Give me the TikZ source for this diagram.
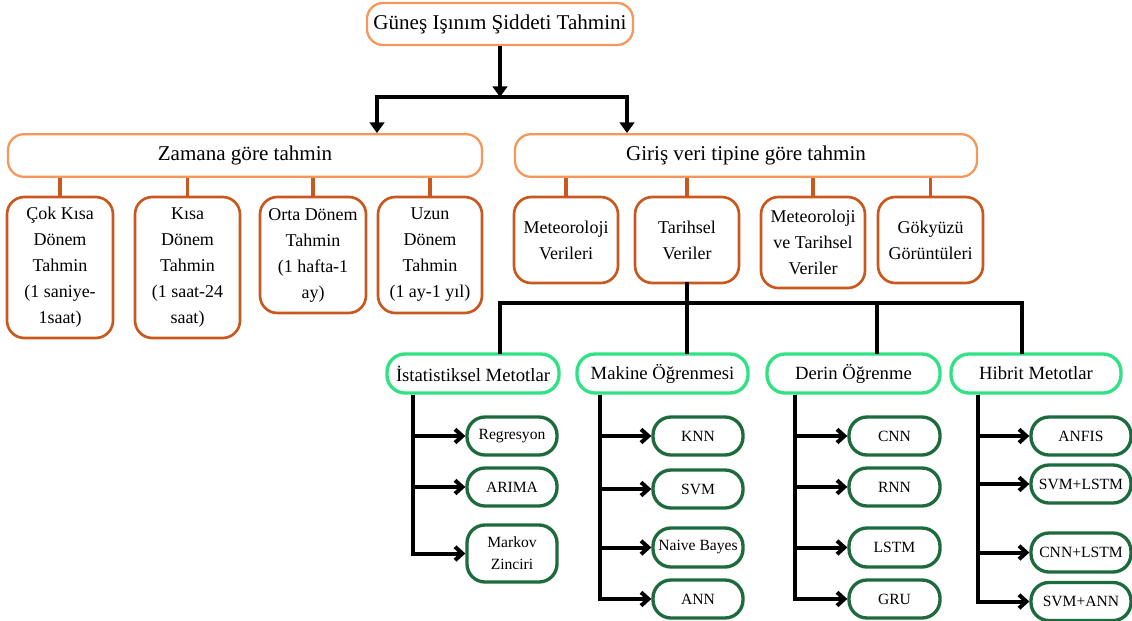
\documentclass[tikz,border=0pt]{standalone}
\usepackage{fontspec}
\setmainfont{Liberation Serif}
\usepackage{tikz}
\usetikzlibrary{arrows.meta, calc}
\usepackage{xcolor}
\definecolor{OrL}{HTML}{F5975A}
\definecolor{OrD}{HTML}{C9581E}
\definecolor{GrL}{HTML}{30E284}
\definecolor{GrD}{HTML}{1D6B3C}
\tikzset{
  TOP/.style={
    rectangle, rounded corners=12pt,
    draw=OrL, fill=white, line width=1.7pt,
    font=\fontsize{15.8}{19}\selectfont,
    inner sep=0pt, minimum height=32pt
  },
  SUB/.style={
    rectangle, rounded corners=13pt,
    draw=OrD, fill=white, line width=2pt, align=center,
    font=\fontsize{13.5}{19.5}\selectfont,
    inner sep=0pt, minimum width=78pt
  },
  GRP/.style={
    rectangle, rounded corners=13.5pt,
    draw=GrL, fill=white, line width=2.5pt,
    font=\fontsize{14}{17}\selectfont,
    inner sep=0pt, minimum height=29.25pt
  },
  LEAF/.style={
    rectangle, rounded corners=13.5pt,
    draw=GrD, fill=white, line width=2.5pt, align=center,
    font=\fontsize{11.7}{16.7}\selectfont,
    inner sep=0pt, minimum width=67.5pt, minimum height=28.5pt
  },
  ARR/.style={
    -{Triangle[length=8pt,width=11pt]},
    line width=3pt, color=black
  },
  BLN/.style={line width=3pt, line cap=rect, color=black},
  OLN/.style={line width=2.6pt, color=OrD},
  SAR/.style={
    -{Straight Barb[length=5.5pt,width=10pt]},
    line width=3pt, color=black
  },
}
\begin{document}
\begin{tikzpicture}[x=0.75pt,y=-0.75pt]
\useasboundingbox (0,0) rectangle (1132,621);

%================ ROOT =================
\node[TOP,minimum width=199.5pt,minimum height=31.5pt] (root) at (500,24)
{Güneş Işınım Şiddeti Tahmini};

\node[TOP,minimum width=355.5pt] (zam) at (245,155.5) {Zamana göre tahmin};
\node[TOP,minimum width=346.5pt] (gir) at (746,155.5) {Giriş veri tipine göre tahmin};

%================ TIME BASED =================
\node[SUB,minimum width=79.5pt,minimum height=105.75pt] (cks) at (60,267.5)
{Çok Kısa\\Dönem\\Tahmin\\(1 saniye-\\1saat)};
\node[SUB,minimum width=78.75pt,minimum height=105.75pt] (ks) at (187.5,267.5)
{Kısa\\Dönem\\Tahmin\\(1 saat-24\\saat)};
\node[SUB,minimum width=79.5pt,minimum height=87pt] (od) at (313,255)
{Orta Dönem\\Tahmin\\(1 hafta-1\\ay)};
\node[SUB,minimum height=87pt] (ud) at (430,255)
{Uzun\\Dönem\\Tahmin\\(1 ay-1 yıl)};

%================ INPUT BASED =================
\node[SUB,minimum height=64.5pt] (mv) at (566,240) {Meteoroloji\\Verileri};
\node[SUB,minimum height=64.5pt] (tv) at (687,240) {Tarihsel\\Veriler};
\node[SUB,minimum height=68.25pt] (mtv) at (813,242.5)
{Meteoroloji\\ve Tarihsel\\Veriler};
\node[SUB,minimum width=78.75pt,minimum height=64.5pt] (gg) at (930.5,240)
{Gökyüzü\\Görüntüleri};

%================ METHOD GROUPS =================
\node[GRP,minimum width=129pt]    (ist) at (473,373.5)  {İstatistiksel Metotlar};
\node[GRP,minimum width=128.25pt] (mak) at (662.5,373.5){Makine Öğrenmesi};
\node[GRP,minimum width=129.75pt] (der) at (853.5,373.5){Derin Öğrenme};
\node[GRP,minimum width=127.5pt]  (hib) at (1036,373.5) {Hibrit Metotlar};

%================ LEAVES =================
\node[LEAF] (reg) at (512,436)   {Regresyon};
\node[LEAF] (ari) at (512,487)   {ARIMA};
\node[LEAF,minimum height=42.75pt] (mar) at (512,553.5) {Markov\\Zinciri};

\node[LEAF] (knn) at (698,436)   {KNN};
\node[LEAF] (svm) at (698,489)   {SVM};
\node[LEAF,minimum height=29.25pt] (nb) at (698,547.5) {Naive Bayes};
\node[LEAF] (ann) at (698,599)   {ANN};

\node[LEAF,minimum width=68.25pt] (cnn)  at (894.5,436)   {CNN};
\node[LEAF,minimum width=68.25pt] (rnn)  at (894.5,487)   {RNN};
\node[LEAF,minimum width=68.25pt,minimum height=29.25pt] (lstm) at (894.5,547.5) {LSTM};
\node[LEAF,minimum width=68.25pt] (gru)  at (894.5,599)   {GRU};

\node[LEAF,minimum width=75pt] (anf) at (1081,436)   {ANFIS};
\node[LEAF,minimum width=75pt] (svl) at (1081,484)   {SVM+LSTM};
\node[LEAF,minimum width=75pt,minimum height=29.25pt] (cnl) at (1081,552.5) {CNN+LSTM};
\node[LEAF,minimum width=75pt] (sva) at (1081,601.5) {SVM+ANN};

%================ ROOT SPLIT =================
\coordinate (bL) at (377,97);
\coordinate (bR) at (627,97);
\draw[ARR] (root.south) -- (root.south |- bL);
\draw[BLN] (bL) -- (bR);
\draw[ARR] (bL) -- (bL |- zam.north);
\draw[ARR] (bR) -- (bR |- gir.north);

%================ ORANGE LINKS =================
\foreach \n in {cks,ks,od,ud}
  \draw[OLN] (\n.north) -- (\n.north |- zam.south);
\foreach \n in {mv,tv,mtv,gg}
  \draw[OLN] (\n.north) -- (\n.north |- gir.south);

%================ METHOD TREE =================
\coordinate (tL) at (500,303);
\coordinate (tR) at (1022,303);
\coordinate (tD) at (877,303);
\draw[BLN] (tv.south) -- (tv.south |- mak.north);
\draw[BLN] (tL |- ist.north) -- (tL) -- (tR) -- (tR |- hib.north);
\draw[BLN] (tD) -- (tD |- der.north);

%================ SPINES =================
\coordinate (sIst) at (ist.south -| 413,0);
\coordinate (sMak) at (mak.south -| 600,0);
\coordinate (sDer) at (der.south -| 795,0);
\coordinate (sHib) at (hib.south -| 978,0);

\foreach \c in {reg,ari,mar}   \draw[SAR] (sIst) |- (\c.west);
\foreach \c in {knn,svm,nb,ann} \draw[SAR] (sMak) |- (\c.west);
\foreach \c in {cnn,rnn,lstm,gru} \draw[SAR] (sDer) |- (\c.west);
\foreach \c in {anf,svl,cnl,sva} \draw[SAR] (sHib) |- (\c.west);

\end{tikzpicture}
\end{document}
